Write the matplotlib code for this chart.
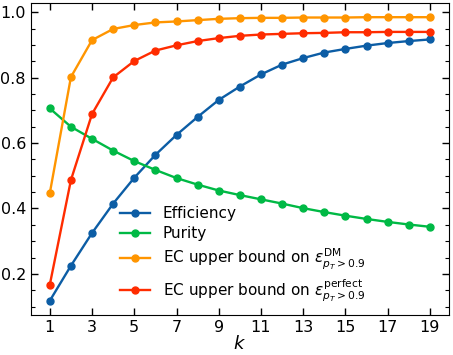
import matplotlib
matplotlib.use('Agg')
import matplotlib.pyplot as plt
from matplotlib.ticker import MultipleLocator

# values
k = list(range(1, 20))
efficiency = [0.118, 0.225, 0.325, 0.415, 0.494, 0.564, 0.625, 0.680, 0.732, 0.773,
              0.810, 0.840, 0.860, 0.877, 0.888, 0.898, 0.906, 0.912, 0.917]
purity = [0.706, 0.650, 0.613, 0.577, 0.545, 0.518, 0.493, 0.473, 0.455, 0.441,
          0.428, 0.415, 0.401, 0.389, 0.378, 0.368, 0.359, 0.351, 0.344]
ec_dm = [0.447, 0.802, 0.915, 0.949, 0.961, 0.969, 0.972, 0.976, 0.980, 0.982,
         0.983, 0.983, 0.984, 0.984, 0.984, 0.985, 0.985, 0.985, 0.985]
ec_perfect = [0.167, 0.487, 0.689, 0.801, 0.851, 0.883, 0.899, 0.912, 0.921, 0.928,
              0.932, 0.934, 0.936, 0.937, 0.939, 0.939, 0.940, 0.940, 0.940]

labels = ['Efficiency', 'Purity',
          r'EC upper bound on $\varepsilon_{p_T > 0.9}^{\mathrm{DM}}$',
          r'EC upper bound on $\varepsilon_{p_T > 0.9}^{\mathrm{perfect}}$']
colors = ['#0C5DA5', '#00B945', '#FF9500', '#FF2C00']

plt.rcParams['mathtext.fontset'] = 'dejavusans'
fig, ax = plt.subplots(figsize=(4.53, 3.55), dpi=100)
fig.subplots_adjust(left=0.068, right=0.991, top=0.9915, bottom=0.113)

for series, lab, col in zip([efficiency, purity, ec_dm, ec_perfect], labels, colors):
    ax.plot(k, series, marker='o', markersize=5, linewidth=1.7, color=col, label=lab)

ax.set_xticks(range(1, 20, 2))
ax.yaxis.set_major_locator(MultipleLocator(0.2))
ax.yaxis.set_minor_locator(MultipleLocator(0.05))
ax.tick_params(which='both', direction='in', top=True, right=True, labelsize=11.5)
ax.tick_params(which='major', length=5, width=1)
ax.tick_params(which='minor', length=3, width=0.8)
ax.tick_params(axis='x', which='minor', bottom=False, top=False)
ax.set_xlabel('$k$', fontsize=13, labelpad=0)

ax.legend(loc='lower left', bbox_to_anchor=(0.213, 0.035), frameon=False, fontsize=11,
          borderpad=0, borderaxespad=0, handlelength=2.0, handletextpad=0.8,
          labelspacing=0.35)

plt.savefig('out.png', dpi=100)
plt.close()
